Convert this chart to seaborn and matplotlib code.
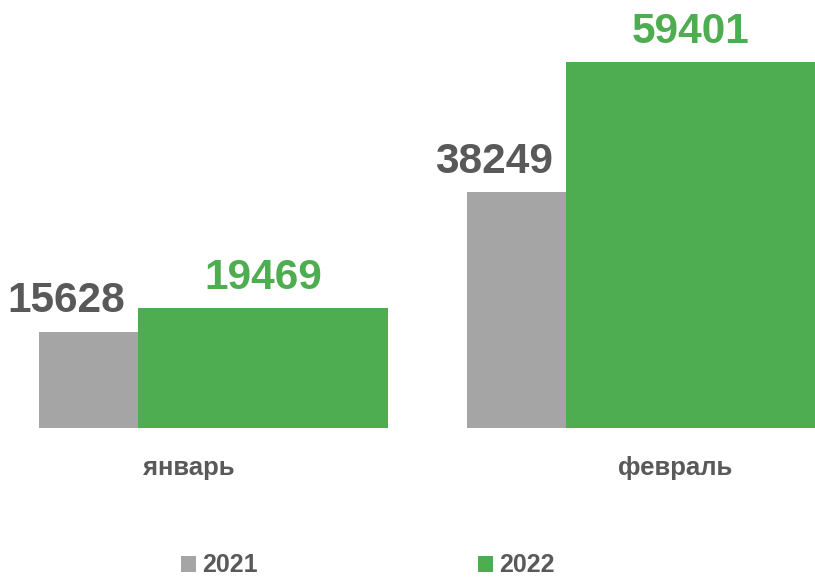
import matplotlib
matplotlib.use("Agg")
import matplotlib.pyplot as plt
from matplotlib.patches import Patch
import pandas as pd
import seaborn as sns

# Данные
months = ["январь", "февраль"]
years = ["2021", "2022"]
values_2021 = [15628, 38249]
values_2022 = [19469, 59401]

colors = {"2021": "#A5A5A5", "2022": "#4EAD51"}
label_colors = {"2021": "#595959", "2022": "#4EAD51"}
text_gray = "#595959"

sns.set_style("white")
plt.rcParams["font.family"] = ["Liberation Sans", "DejaVu Sans"]
plt.rcParams["font.weight"] = "bold"

df = pd.DataFrame({
    "month": months * 2,
    "year": [years[0]] * len(months) + [years[1]] * len(months),
    "value": values_2021 + values_2022,
})

fig = plt.figure(figsize=(8.15, 5.77), dpi=100)
ax = fig.add_axes([0, 149 / 577, 1, 428 / 577])

sns.barplot(data=df, x="month", y="value", hue="year", hue_order=years,
            palette=colors, order=months, width=0.8, dodge=True,
            errorbar=None, legend=False, ax=ax, saturation=1)

# Ширина столбцов: узкий серый + широкий зелёный (как в исходной диаграмме)
left_edge, split, right_edge = -0.408, -0.177, 0.408
for year, container in zip(years, ax.containers):
    for i, patch in enumerate(container.patches):
        patch.set_edgecolor("none")
        if year == "2021":
            patch.set_x(i + left_edge)
            patch.set_width(split - left_edge)
        else:
            patch.set_x(i + split)
            patch.set_width(right_edge - split)

# Подписи значений
for year, container in zip(years, ax.containers):
    for patch in container.patches:
        h = patch.get_height()
        if year == "2021":
            x = patch.get_x() + patch.get_width()
            ha, dx = "right", -9
        else:
            x = patch.get_x() + patch.get_width() / 2
            ha, dx = "center", 0
        ax.annotate(f"{int(h)}", (x, h), xytext=(dx, 14),
                    textcoords="offset points", ha=ha, va="baseline",
                    fontsize=30.5, fontweight="bold", color=label_colors[year],
                    annotation_clip=False)

ax.set_xlim(-0.499, 1.405)
ax.set_ylim(0, 69464)

# Подписи категорий
tick_shift = [-0.058, 0.079]
ax.set_xticks([i + s for i, s in enumerate(tick_shift)])
ax.set_xticklabels(months, fontsize=18.5, fontweight="bold", color=text_gray)
ax.tick_params(axis="x", length=0, pad=20)
ax.set_yticks([])
ax.set_xlabel("")
ax.set_ylabel("")
sns.despine(ax=ax, left=True, bottom=True)

# Легенда
handles = [Patch(facecolor=colors[y], edgecolor="none") for y in years]
leg = fig.legend(handles, years, loc="center", bbox_to_anchor=(0.451, 0.02),
                 ncol=2, frameon=False, handlelength=0.6, handleheight=0.6,
                 handletextpad=0.25, columnspacing=8.8, borderpad=0,
                 prop={"size": 18, "weight": "bold"})
for t in leg.get_texts():
    t.set_color(text_gray)

fig.savefig("out.png", dpi=100)
